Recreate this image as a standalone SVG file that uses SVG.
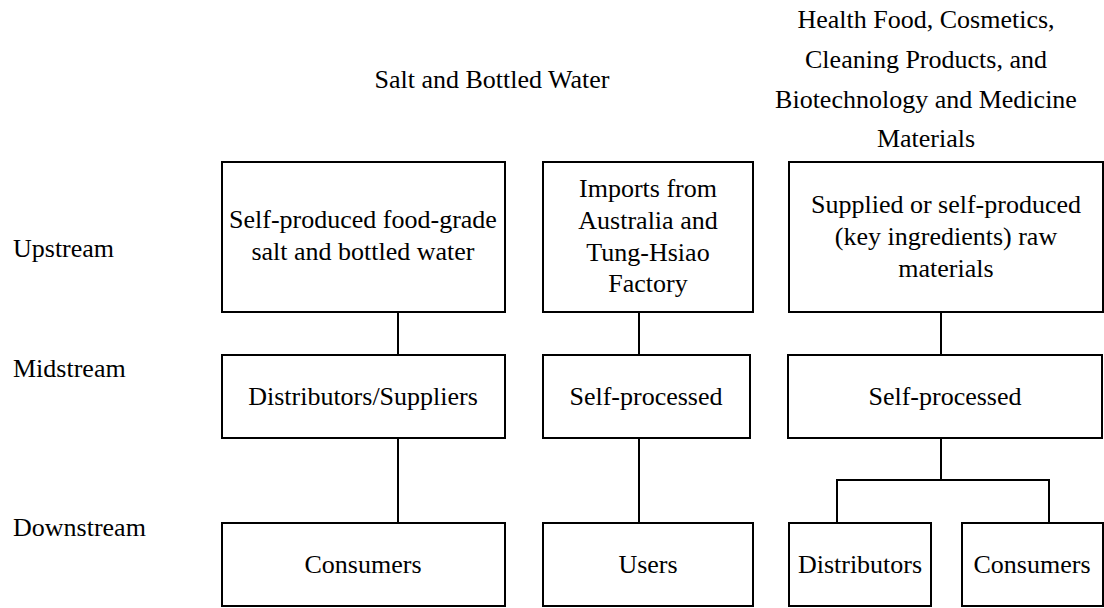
<svg xmlns="http://www.w3.org/2000/svg" width="1104" height="608" viewBox="0 0 1104 608" font-family="'Liberation Serif', 'Times New Roman', 'DejaVu Serif', serif">
<style>
text{font-family:'Liberation Serif','Times New Roman','DejaVu Serif',serif;font-size:26px;fill:#000}
.c{text-anchor:middle}
.box{fill:#fff;stroke:#000;stroke-width:2}
.ln{fill:none;stroke:#000;stroke-width:2}
</style>
<rect width="1104" height="608" fill="#fff"/>
<g id="labels">
<text x="13" y="257">Upstream</text>
<text x="13" y="377">Midstream</text>
<text x="13" y="536">Downstream</text>
<text class="c" x="492" y="88">Salt and Bottled Water</text>
<text class="c" x="926" y="28">Health Food, Cosmetics,</text>
<text class="c" x="926" y="68">Cleaning Products, and</text>
<text class="c" x="926" y="108">Biotechnology and Medicine</text>
<text class="c" x="926" y="147">Materials</text>
</g>
<g id="connectors">
<line class="ln" x1="398" y1="312" x2="398" y2="355"/>
<line class="ln" x1="398" y1="438" x2="398" y2="523"/>
<line class="ln" x1="639" y1="312" x2="639" y2="355"/>
<line class="ln" x1="639" y1="438" x2="639" y2="523"/>
<line class="ln" x1="941" y1="312" x2="941" y2="355"/>
<polyline class="ln" points="941,438 941,480"/>
<polyline class="ln" points="837,523 837,480 1049,480 1049,523"/>
</g>
<g id="up1"><rect class="box" x="222" y="162" width="283" height="150"/>
<text class="c" x="363" y="228">Self-produced food-grade</text>
<text class="c" x="363" y="260">salt and bottled water</text></g>
<g id="up2"><rect class="box" x="543" y="162" width="210" height="150"/>
<text class="c" x="648" y="197">Imports from</text>
<text class="c" x="648" y="229">Australia and</text>
<text class="c" x="648" y="261">Tung-Hsiao</text>
<text class="c" x="648" y="292">Factory</text></g>
<g id="up3"><rect class="box" x="789" y="162" width="314" height="150"/>
<text class="c" x="946" y="213">Supplied or self-produced</text>
<text class="c" x="946" y="245">(key ingredients) raw</text>
<text class="c" x="946" y="277">materials</text></g>
<g id="mid1"><rect class="box" x="222" y="355" width="283" height="83"/>
<text class="c" x="363" y="405">Distributors/Suppliers</text></g>
<g id="mid2"><rect class="box" x="543" y="355" width="207" height="83"/>
<text class="c" x="646" y="405">Self-processed</text></g>
<g id="mid3"><rect class="box" x="788" y="355" width="314" height="83"/>
<text class="c" x="945" y="405">Self-processed</text></g>
<g id="down1"><rect class="box" x="222" y="523" width="283" height="83"/>
<text class="c" x="363" y="573">Consumers</text></g>
<g id="down2"><rect class="box" x="543" y="523" width="210" height="83"/>
<text class="c" x="648" y="573">Users</text></g>
<g id="down3"><rect class="box" x="789" y="523" width="142" height="83"/>
<text class="c" x="860" y="573">Distributors</text></g>
<g id="down4"><rect class="box" x="962" y="523" width="141" height="83"/>
<text class="c" x="1032" y="573">Consumers</text></g>
</svg>
